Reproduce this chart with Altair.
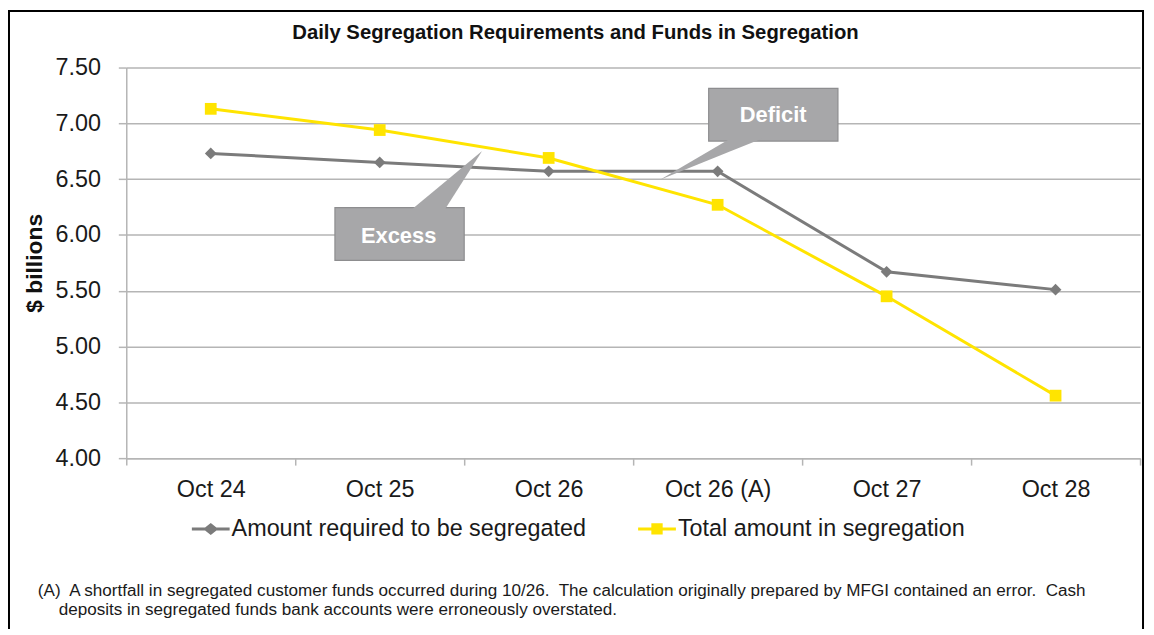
import altair as alt
import pandas as pd

# ---- data ----
dates = ["Oct 24", "Oct 25", "Oct 26", "Oct 26 (A)", "Oct 27", "Oct 28"]
series_names = ["Amount required to be segregated", "Total amount in segregation"]
required = [6.73, 6.65, 6.57, 6.57, 5.67, 5.51]
in_segregation = [7.13, 6.94, 6.69, 6.27, 5.45, 4.56]
y_ticks = [4.0, 4.5, 5.0, 5.5, 6.0, 6.5, 7.0, 7.5]

# callout annotations (in data units: x = category index, y = $ billions)
callout_labels = ["Excess", "Deficit"]
callout_x = [0.735, 2.947]
callout_x2 = [1.50, 3.712]
callout_y = [6.244, 7.313]
callout_y2 = [5.772, 6.841]
callout_text_x = [1.112, 3.329]
callout_text_y = [5.986, 7.073]
pointer_name = ["Excess", "Excess", "Excess", "Deficit", "Deficit", "Deficit"]
pointer_x = [1.182, 1.382, 1.606, 2.659, 3.076, 3.265]
pointer_top = [6.22, 6.471, 6.752, 6.494, 6.865, 6.865]
pointer_bottom = [6.22, 6.22, 6.752, 6.494, 6.749, 6.865]

NB = "\u00a0"
footnote_lines = [
    "(A)" + NB + " A shortfall in segregated customer funds occurred during 10/26." + NB
    + " The calculation originally prepared by MFGI contained an error." + NB + " Cash",
    "deposits in segregated funds bank accounts were erroneously overstated.",
]
title_text = "Daily Segregation Requirements and Funds in Segregation"

# ---- tables ----
rows = []
for name, vals in zip(series_names, [required, in_segregation]):
    for i, v in enumerate(vals):
        rows.append({"idx": i, "date": dates[i], "value": v, "series": name})
df = pd.DataFrame(rows)

boxes = pd.DataFrame({"label": callout_labels, "x": callout_x, "x2": callout_x2,
                      "y": callout_y, "y2": callout_y2,
                      "tx": callout_text_x, "ty": callout_text_y})
pointers = pd.DataFrame({"name": pointer_name, "x": pointer_x,
                         "y": pointer_top, "y2": pointer_bottom})

FONT = "Liberation Sans"
GRAY = "#7b7b7b"
YELLOW = "#ffe400"
AXIS_GRAY = "#b5b5b5"
CALLOUT = "#a7a7a9"
LABEL_SIZE = 23.5

W, H = 1020, 393

label_expr = "[" + ",".join("'%s'" % d for d in dates) + "][datum.value]"

xscale = alt.Scale(domain=[-0.5, len(dates) - 0.5], nice=False, zero=False)
yscale = alt.Scale(domain=[y_ticks[0], y_ticks[-1]], nice=False, zero=False)

x_main = alt.X("idx:Q", scale=xscale, title=None,
               axis=alt.Axis(values=list(range(len(dates))), labelExpr=label_expr,
                             ticks=False, grid=False, domain=True, domainColor=AXIS_GRAY,
                             domainWidth=1.5, labelFontSize=LABEL_SIZE, labelFont=FONT,
                             labelColor="#1a1a1a", labelPadding=20))
y_main = alt.Y("value:Q", scale=yscale, title="$ billions",
               axis=alt.Axis(values=y_ticks, format=".2f", grid=True, gridColor=AXIS_GRAY,
                             gridWidth=1.5, domain=True, domainColor=AXIS_GRAY, domainWidth=1.5,
                             tickColor=AXIS_GRAY, tickSize=8, tickWidth=1.5,
                             labelFontSize=LABEL_SIZE, labelFont=FONT, labelColor="#1a1a1a",
                             labelPadding=18, titleFontSize=23, titleFont=FONT,
                             titleFontWeight="bold", titleColor="#111111", titlePadding=9))

color_scale = alt.Scale(domain=series_names, range=[GRAY, YELLOW])

lines = alt.Chart(df).mark_line(strokeWidth=3).encode(
    x=x_main, y=y_main,
    color=alt.Color("series:N", scale=color_scale, legend=None),
    detail="series:N",
)

# tick marks between categories (second x axis, same scale)
tick_axis = alt.Chart(df).mark_point(opacity=0).encode(
    x=alt.X("idx:Q", scale=xscale, title=None,
            axis=alt.Axis(orient="bottom", values=[i - 0.5 for i in range(len(dates) + 1)],
                          labels=False, ticks=True, tickSize=7, tickWidth=1.5,
                          tickColor=AXIS_GRAY, domain=False, grid=False)),
    y=alt.Y("value:Q", scale=yscale, axis=None),
)

points = alt.Chart(df).mark_point(filled=True, opacity=1).encode(
    x=alt.X("idx:Q", scale=xscale, axis=None),
    y=alt.Y("value:Q", scale=yscale, axis=None),
    color=alt.Color("series:N", scale=color_scale, legend=None),
    shape=alt.Shape("series:N", scale=alt.Scale(domain=series_names, range=["diamond", "square"]),
                    legend=None),
    size=alt.Size("series:N", scale=alt.Scale(domain=series_names, range=[140, 140]), legend=None),
)

diamond_leg = ("M-1,-0.08L-0.3,-0.08L0,-0.32L0.3,-0.08L1,-0.08L1,0.08L0.3,0.08L0,0.32"
               "L-0.3,0.08L-1,0.08Z")
square_leg = ("M-1,-0.08L-0.3,-0.08L-0.3,-0.3L0.3,-0.3L0.3,-0.08L1,-0.08L1,0.08L0.3,0.08"
              "L0.3,0.3L-0.3,0.3L-0.3,0.08L-1,0.08Z")

legend_layer = alt.Chart(df).mark_point(filled=True, opacity=1, size=1444).encode(
    x=alt.X("idx:Q", scale=xscale, axis=None),
    y=alt.Y("value:Q", scale=yscale, axis=None),
    color=alt.Color("series:N", scale=alt.Scale(domain=series_names, range=[GRAY, YELLOW]),
                    legend=alt.Legend(orient="none", legendX=66, legendY=445,
                                      direction="horizontal", title=None,
                                      labelFontSize=LABEL_SIZE, labelFont=FONT,
                                      labelColor="#1a1a1a", labelLimit=0,
                                      symbolSize=1444, symbolStrokeWidth=0,
                                      labelOffset=2, columnPadding=52)),
    shape=alt.Shape("series:N", scale=alt.Scale(domain=series_names,
                                                range=[diamond_leg, square_leg])),
).transform_filter("false")

box_rect = alt.Chart(boxes).mark_rect(fill=CALLOUT, stroke="#8d8d8f", strokeWidth=1.2).encode(
    x=alt.X("x:Q", scale=xscale, axis=None), x2="x2:Q",
    y=alt.Y("y:Q", scale=yscale, axis=None), y2="y2:Q",
)
pointer_area = alt.Chart(pointers).mark_area(fill=CALLOUT, orient="vertical",
                                              opacity=1, interpolate="linear").encode(
    x=alt.X("x:Q", scale=xscale, axis=None),
    y=alt.Y("y:Q", scale=yscale, axis=None), y2="y2:Q",
    detail="name:N",
)
box_text = alt.Chart(boxes).mark_text(font=FONT, fontSize=22, fontWeight="bold",
                                      color="white", align="center", baseline="middle").encode(
    x=alt.X("tx:Q", scale=xscale, axis=None),
    y=alt.Y("ty:Q", scale=yscale, axis=None),
    text="label:N",
)

title = alt.Chart(alt.Data(values=[{}])).mark_text(
    text=title_text, font=FONT, fontSize=20.4, fontWeight="bold", color="#111111",
    align="center", baseline="middle").encode(x=alt.value(452), y=alt.value(-35))

foot1 = alt.Chart(alt.Data(values=[{}])).mark_text(
    text=footnote_lines[0], font=FONT, fontSize=17.2, color="#1a1a1a",
    align="left", baseline="alphabetic").encode(x=alt.value(-89), y=alt.value(532))
foot2 = alt.Chart(alt.Data(values=[{}])).mark_text(
    text=footnote_lines[1], font=FONT, fontSize=17.2, color="#1a1a1a",
    align="left", baseline="alphabetic").encode(x=alt.value(-68), y=alt.value(551))

border = alt.Chart(alt.Data(values=[{}])).mark_rect(
    fillOpacity=0, stroke="black", strokeWidth=2).encode(
    x=alt.value(-118), x2=alt.value(1023), y=alt.value(-57), y2=alt.value(700))

chart = alt.layer(
    border, lines, tick_axis, points, legend_layer,
    box_rect, pointer_area, box_text, title, foot1, foot2,
).resolve_scale(
    color="independent", shape="independent", size="independent"
).resolve_axis(
    x="independent", y="independent"
).properties(
    width=W, height=H,
    autosize=alt.AutoSizeParams(type="none"),
    padding={"left": 119, "top": 58, "right": 6, "bottom": 170},
    background="white",
).configure_view(stroke=None)

chart.save("out.html", embed_options={"renderer": "svg", "actions": False})
